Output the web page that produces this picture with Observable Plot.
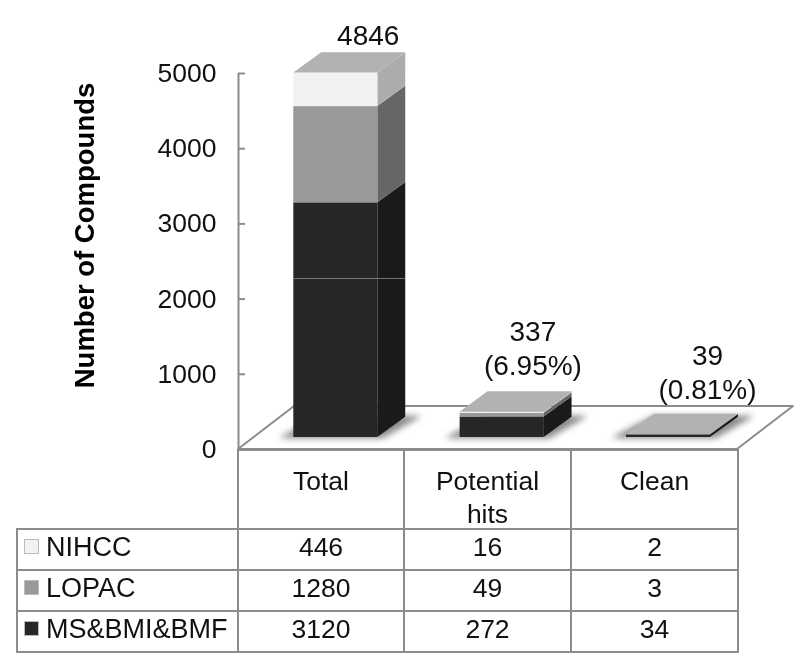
<!DOCTYPE html>
<html>
<head>
<meta charset="utf-8">
<script src="https://cdn.jsdelivr.net/npm/d3@7"></script>
<script src="https://cdn.jsdelivr.net/npm/@observablehq/plot@0.6"></script>
<style>
  html, body { margin: 0; padding: 0; background: #fff; }
  body { width: 800px; height: 671px; overflow: hidden; font-family: "Liberation Sans", Arial, sans-serif; color: #111; }
  svg { display: block; overflow: visible; filter: blur(0.45px); }
  table { border-collapse: collapse; table-layout: fixed; margin-left: 16px; margin-top: -1px; width: 721px; font-size: 26.5px; line-height: 33px; position: relative; filter: blur(0.45px); }
  td, th { border: 2px solid #8c8c8c; font-weight: normal; text-align: center; padding: 0 0 4px; height: 35px; box-sizing: content-box; }
  th { height: auto; vertical-align: top; padding: 14px 22px 0; box-sizing: content-box; }
  th > div { height: 63px; }
  th.blank { border: none; border-right: 2px solid #8c8c8c; border-bottom: 2px solid #8c8c8c; }
  td.name { text-align: left; padding-left: 6px; white-space: nowrap; font-size: 27px; }
  .key { display: inline-block; width: 15px; height: 15px; margin-right: 7px; vertical-align: 2px; }
</style>
</head>
<body>
<div id="chart"></div>
<script>
const categories = ["Total", "Potential hits", "Clean"];
const sources = ["MS&BMI&BMF", "LOPAC", "NIHCC"];
const msValues = [3120, 272, 34];
const lopacValues = [1280, 49, 3];
const nihccValues = [446, 16, 2];
const totals = [4846, 337, 39];
const shares = ["", "(6.95%)", "(0.81%)"];
const yTicks = [0, 1000, 2000, 3000, 4000, 5000];

const values = {"MS&BMI&BMF": msValues, "LOPAC": lopacValues, "NIHCC": nihccValues};
const frontColor = {"MS&BMI&BMF": "#262626", "LOPAC": "#999999", "NIHCC": "#f2f2f2"};
const sideColor = {"MS&BMI&BMF": "#1a1a1a", "LOPAC": "#666666", "NIHCC": "#acacac"};
const topColor = "#b2b2b2";

// Oblique projection, expressed in scale units
const floorX = 0.337, floorY = 572;   // depth of the floor
const liftX = 0.085, liftY = 160;     // bar front relative to the floor front
const halfW = 0.2525;                 // half bar width
const depthX = 0.168, depthY = 270;   // bar depth

const segments = [];
categories.forEach((c, i) => {
  let base = 0;
  for (const s of sources) {
    const v = values[s][i];
    segments.push({c, i, s, y1: base + liftY, y2: base + v + liftY,
      xl: i + 0.5 + liftX - halfW, xr: i + 0.5 + liftX + halfW});
    base += v;
  }
});
const bars = categories.map((c, i) => ({c, i, total: totals[i],
  xl: i + 0.5 + liftX - halfW, xr: i + 0.5 + liftX + halfW,
  top: totals[i] + liftY}));

const sideRows = segments.flatMap(d => [
  {id: d.c + d.s, s: d.s, x: d.xr, y1: d.y1, y2: d.y2},
  {id: d.c + d.s, s: d.s, x: d.xr + depthX, y1: d.y1 + depthY, y2: d.y2 + depthY}
]);
const topRows = bars.flatMap(d => [
  {id: d.c, y: d.top, x1: d.xl, x2: d.xr},
  {id: d.c, y: d.top + depthY, x1: d.xl + depthX, x2: d.xr + depthX}
]);
const shadowRows = bars.flatMap(d => [
  {id: d.c, y: liftY - 5, x1: d.xl - 0.07, x2: d.xr + 0.03},
  {id: d.c, y: liftY + depthY, x1: d.xl + depthX, x2: d.xr + depthX + 0.08}
]);
const floorRows = [
  {y: 0, x1: 0, x2: 3},
  {y: floorY, x1: floorX, x2: 3 + floorX}
];
const labelRows = [
  {i: 0, t: "4846", x: 0.5 + 0.28, y: 4846 + liftY + depthY + 220},
  {i: 1, t: "337", x: 1.5 + 0.27, y: 337 + liftY + depthY + 790},
  {i: 1, t: shares[1], x: 1.5 + 0.27, y: 337 + liftY + depthY + 340},
  {i: 2, t: "39", x: 2.5 + 0.32, y: 39 + liftY + depthY + 780},
  {i: 2, t: shares[2], x: 2.5 + 0.32, y: 39 + liftY + depthY + 325}
];
const seam = [{y: 2274}];

const axisColor = "#8c8c8c";
const fontSize = 26.5;

const shadowMark = Plot.areaX(shadowRows, {y: "y", x1: "x1", x2: "x2", z: "id", fill: "#8a8a8a", stroke: "#8a8a8a", strokeWidth: 2, curve: "linear",
  render(index, scales, channels, dims, context, next) {
    const g = next(index, scales, channels, dims, context);
    g.style.filter = "blur(3px)";
    return g;
  }});

const plot = Plot.plot({
  width: 800,
  height: 450,
  marginLeft: 238,
  marginRight: 63,
  marginTop: 73,
  marginBottom: 1,
  style: {fontFamily: "'Liberation Sans', Arial, sans-serif", fontSize: fontSize + "px", color: "#111", background: "transparent"},
  x: {domain: [0, 3], axis: null},
  y: {domain: [0, 5000], axis: null},
  marks: [
    Plot.areaX(floorRows, {y: "y", x1: "x1", x2: "x2", fill: "#fff", stroke: axisColor, strokeWidth: 2, curve: "linear"}),
    shadowMark,
    Plot.areaY(sideRows, {x: "x", y1: "y1", y2: "y2", z: "id", fill: d => sideColor[d.s], curve: "linear"}),
    Plot.rectY(segments, {x1: "xl", x2: "xr", y1: "y1", y2: "y2", fill: d => frontColor[d.s], inset: 0}),
    Plot.areaX(topRows, {y: "y", x1: "x1", x2: "x2", z: "id", fill: topColor, curve: "linear"}),
    Plot.ruleY(seam, {y: "y", x1: bars[0].xl, x2: bars[0].xr + depthX, stroke: "#8a8a8a", strokeWidth: 0.8}),
    Plot.ruleX([0], {y1: 0, y2: 5000, stroke: axisColor, strokeWidth: 2}),
    Plot.ruleY(yTicks, {x1: 0, x2: 0.042, stroke: axisColor, strokeWidth: 2}),
    Plot.axisY({ticks: yTicks, tickSize: 0, tickPadding: 22, tickFormat: d => String(d), fontSize: fontSize, label: null}),
    Plot.text(["Number of Compounds"], {frameAnchor: "left", textAnchor: "middle", dx: -153, dy: -26, rotate: -90, fontWeight: "bold", fontSize: 27.5, fill: "#000"}),
    Plot.text(labelRows, {x: "x", y: "y", text: "t", fontSize: 28, fill: "#111"})
  ]
});

const root = document.getElementById("chart");
root.appendChild(plot);

// Data table below the chart
const table = document.createElement("table");
const colgroup = document.createElement("colgroup");
[221, 166, 167, 167].forEach(w => { const col = document.createElement("col"); col.style.width = w + "px"; colgroup.appendChild(col); });
table.appendChild(colgroup);
const head = document.createElement("tr");
const blank = document.createElement("th"); blank.className = "blank"; head.appendChild(blank);
categories.forEach(c => {
  const th = document.createElement("th");
  const inner = document.createElement("div");
  inner.textContent = c;
  th.appendChild(inner);
  head.appendChild(th);
});
table.appendChild(head);
[...sources].reverse().forEach(s => {
  const tr = document.createElement("tr");
  const name = document.createElement("td"); name.className = "name";
  const key = document.createElement("span"); key.className = "key"; key.style.background = frontColor[s];
  key.style.border = "1px solid #bbb"; key.style.boxSizing = "border-box";
  name.appendChild(key); name.appendChild(document.createTextNode(s));
  tr.appendChild(name);
  values[s].forEach(v => { const td = document.createElement("td"); td.textContent = v; tr.appendChild(td); });
  table.appendChild(tr);
});
root.appendChild(table);
</script>
</body>
</html>
